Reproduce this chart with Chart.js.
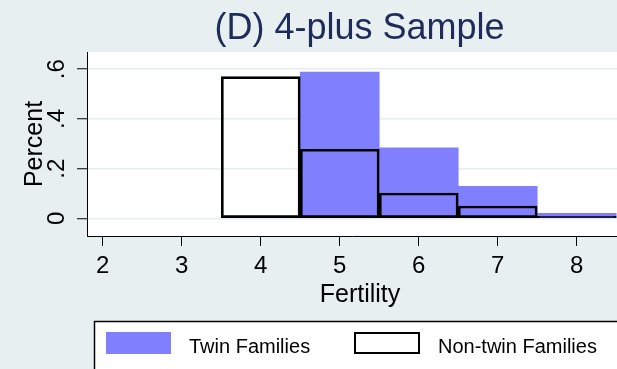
<!DOCTYPE html>
<html>
<head>
<meta charset="utf-8">
<title>(D) 4-plus Sample</title>
<script src="https://cdn.jsdelivr.net/npm/chart.js@4.4.1/dist/chart.umd.min.js"></script>
<style>
  html, body { margin: 0; padding: 0; background: #e8eff1; }
  canvas { display: block; }
</style>
</head>
<body>
<canvas id="histChart" width="617" height="369"></canvas>
<script>
    "use strict";

    // fertility bins (number of children) and share of families in each
    const bins = [4, 5, 6, 7, 8];
    const twinPct = [null, 0.588, 0.284, 0.129, 0.020];
    const nonTwinPct = [0.570, 0.278, 0.102, 0.050, 0.008];

    // axis ticks
    const xTicks = [2, 3, 4, 5, 6, 7, 8];
    const yTicks = [0, 0.2, 0.4, 0.6];
    const yTickLabels = ['0', '.2', '.4', '.6'];

    const FONT = '"Liberation Sans", Arial, Helvetica, sans-serif';

    function toPoints(values) {
        const pts = [];
        bins.forEach(function (b, i) {
            if (values[i] !== null) pts.push({ x: b, y: values[i] });
        });
        return pts;
    }

    /* backgrounds, titles and the boxed legend */
    const stataLook = {
        id: 'stataLook',
        beforeDraw: function (chart) {
            const ctx = chart.ctx;
            const a = chart.chartArea;
            ctx.save();
            ctx.fillStyle = '#e8eff1';
            ctx.fillRect(0, 0, chart.width, chart.height);
            ctx.fillStyle = '#ffffff';
            ctx.fillRect(a.left, a.top, a.right - a.left, a.bottom - a.top);
            ctx.restore();
        },
        afterDraw: function (chart) {
            const ctx = chart.ctx;
            const ds = chart.data.datasets;
            ctx.save();

            // main title
            ctx.fillStyle = '#1e2c5a';
            ctx.font = '36px ' + FONT;
            ctx.textAlign = 'center';
            ctx.textBaseline = 'alphabetic';
            ctx.fillText('(D) 4-plus Sample', 359.5, 39);

            // x axis title
            ctx.fillStyle = '#000';
            ctx.font = '25px ' + FONT;
            ctx.fillText('Fertility', 360, 302);

            // legend box
            ctx.fillStyle = '#fff';
            ctx.fillRect(94, 321, 600, 60);
            ctx.strokeStyle = '#000';
            ctx.lineWidth = 1.5;
            ctx.strokeRect(94.5, 321.5, 600, 60);

            ctx.fillStyle = ds[0].backgroundColor;
            ctx.fillRect(106, 332, 65, 22);

            ctx.lineWidth = 2;
            ctx.strokeRect(355, 333, 64, 20);

            ctx.fillStyle = '#000';
            ctx.font = '20px ' + FONT;
            ctx.textAlign = 'left';
            ctx.fillText(ds[0].label, 189, 353);
            ctx.fillText(ds[1].label, 438, 353);

            ctx.restore();
        }
    };

    const ctx = document.getElementById('histChart').getContext('2d');
    const chart = new Chart(ctx, {
        type: 'bar',
        data: {
            datasets: [
                {
                    label: 'Twin Families',
                    data: toPoints(twinPct),
                    backgroundColor: '#8080ff',
                    borderWidth: 0,
                    grouped: false,
                    barPercentage: 1,
                    categoryPercentage: 1,
                    order: 2
                },
                {
                    label: 'Non-twin Families',
                    data: toPoints(nonTwinPct),
                    backgroundColor: 'rgba(0,0,0,0)',
                    borderColor: '#000000',
                    borderWidth: 2,
                    borderSkipped: false,
                    grouped: false,
                    barPercentage: 1,
                    categoryPercentage: 1,
                    order: 1
                }
            ]
        },
        options: {
            responsive: false,
            animation: false,
            layout: { padding: { top: 52, left: 0, right: 0, bottom: 0 } },
            plugins: {
                legend: { display: false },
                tooltip: { enabled: false },
                title: { display: false }
            },
            scales: {
                x: {
                    type: 'linear',
                    min: 1.8,
                    max: 8.51,
                    offset: false,
                    afterBuildTicks: function (scale) {
                        scale.ticks = xTicks.map(function (v) { return { value: v }; });
                    },
                    afterFit: function (scale) { scale.height = 369 - 236; },
                    grid: {
                        offset: false,
                        drawOnChartArea: false,
                        drawTicks: true,
                        tickLength: 10,
                        tickColor: '#000',
                        tickWidth: 1
                    },
                    border: { display: true, color: '#000', width: 1 },
                    ticks: {
                        color: '#000',
                        font: { family: FONT, size: 24 },
                        padding: 6,
                        maxRotation: 0,
                        autoSkip: false
                    }
                },
                y: {
                    min: -0.0708,
                    max: 0.669,
                    afterBuildTicks: function (scale) {
                        scale.ticks = yTicks.map(function (v) { return { value: v }; });
                    },
                    afterFit: function (scale) { scale.width = 87; },
                    grid: {
                        color: '#e6eef1',
                        lineWidth: 1.5,
                        drawTicks: true,
                        tickLength: 10,
                        tickColor: '#000',
                        tickWidth: 1
                    },
                    border: { display: true, color: '#000', width: 1 },
                    ticks: {
                        color: '#000',
                        font: { family: FONT, size: 24 },
                        minRotation: 90,
                        maxRotation: 90,
                        crossAlign: 'center',
                        padding: 10,
                        autoSkip: false,
                        callback: function (value, index) { return yTickLabels[index]; }
                    },
                    title: {
                        display: true,
                        text: 'Percent',
                        color: '#000',
                        font: { family: FONT, size: 25 },
                        padding: { top: 20, bottom: 0 }
                    }
                }
            }
        },
        plugins: [stataLook]
    });
</script>
</body>
</html>
